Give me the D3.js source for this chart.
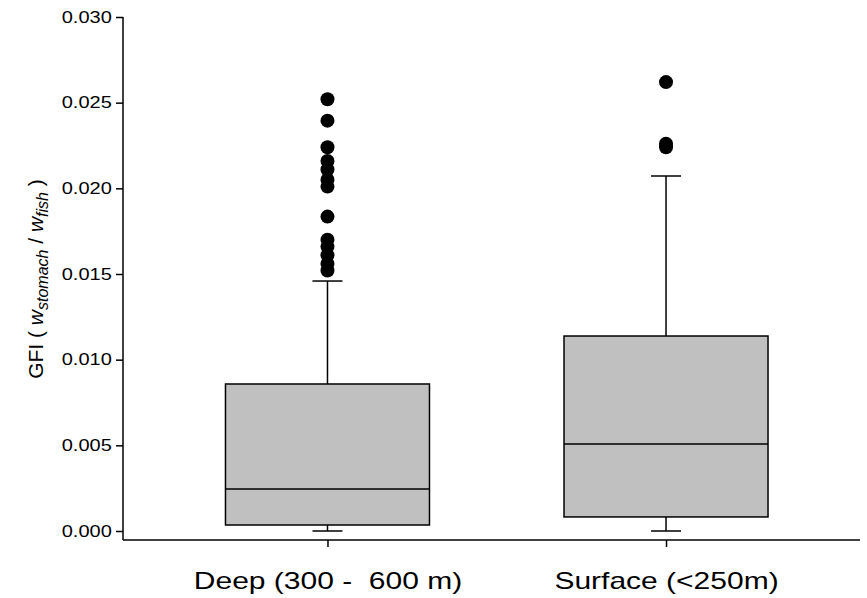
<!DOCTYPE html>
<html>
<head>
<meta charset="utf-8">
<script src="https://cdn.jsdelivr.net/npm/d3@7"></script>
<style>
  body { margin: 0; background: #fff; }
  text { font-family: "Liberation Sans", Arial, sans-serif; }
</style>
</head>
<body>
<script>
// groups on the x axis
const categories = ["Deep (300 -  600 m)", "Surface (<250m)"];

// box stats per group
const q1 = [0.00035, 0.00082];
const median = [0.00245, 0.00508];
const q3 = [0.00858, 0.01138];
const whiskLow = [0.0, 0.0];
const whiskHigh = [0.01459, 0.02072];

// outliers per group
const outDeep = [0.0252, 0.02395, 0.0224, 0.0216, 0.0211, 0.0205, 0.0201, 0.01835,
  0.0170, 0.0166, 0.0161, 0.0156, 0.0152];
const outSurface = [0.0262, 0.0226, 0.0224];
const outliers = [outDeep, outSurface];

const yTicks = [0, 0.005, 0.010, 0.015, 0.020, 0.025, 0.030];

const W = 867, H = 598;
const svg = d3.select("body").append("svg").attr("width", W).attr("height", H);

const yScale = d3.scaleLinear().domain([0, 0.030]).range([531, 17]);
const xScale = d3.scalePoint().domain(categories).range([123, 870.5]).padding(0.604);

const axisBottomY = 540;
const boxW = 204;

// y axis
const yAxis = d3.axisLeft(yScale).tickValues(yTicks).tickFormat(d3.format(".3f")).tickSizeOuter(0).tickSize(7);
const gy = svg.append("g").attr("transform", "translate(123,0)").call(yAxis);
gy.select(".domain").attr("d", "M0," + yScale(0.030) + "V" + axisBottomY);
gy.selectAll("path, line").attr("stroke", "#000").attr("stroke-width", 1.5);
gy.selectAll("text")
  .attr("font-size", 16)
  .attr("fill", "#000")
  .attr("x", -9)
  .attr("transform", "scale(1.25,1)");

// x axis
const xAxis = d3.axisBottom(xScale).tickSizeOuter(0).tickSize(7);
const gx = svg.append("g").attr("transform", "translate(0," + axisBottomY + ")").call(xAxis);
gx.select(".domain").attr("d", "M123,0H860");
gx.selectAll("path, line").attr("stroke", "#000").attr("stroke-width", 1.5);
gx.selectAll(".tick text")
  .attr("font-size", 24)
  .attr("fill", "#000")
  .attr("dy", "1.62em")
  .style("white-space", "pre")
  .attr("transform", "scale(1.25,1)");

// boxes
svg.selectAll("g.box")
  .data(categories)
  .enter()
  .append("g")
  .attr("class", "box")
  .attr("transform", d => "translate(" + xScale(d) + ",0)")
  .each(function(d, i) {
    const g = d3.select(this);

    // whiskers
    g.append("line")
      .attr("x1", 0).attr("x2", 0)
      .attr("y1", yScale(q3[i])).attr("y2", yScale(whiskHigh[i]))
      .attr("stroke", "#000").attr("stroke-width", 1.5);
    g.append("line")
      .attr("x1", 0).attr("x2", 0)
      .attr("y1", yScale(q1[i])).attr("y2", yScale(whiskLow[i]))
      .attr("stroke", "#000").attr("stroke-width", 1.5);
    [whiskHigh[i], whiskLow[i]].forEach(v => {
      g.append("line")
        .attr("x1", -15).attr("x2", 15)
        .attr("y1", yScale(v)).attr("y2", yScale(v))
        .attr("stroke", "#000").attr("stroke-width", 1.5);
    });

    g.append("rect")
      .attr("x", -boxW / 2)
      .attr("width", boxW)
      .attr("y", yScale(q3[i]))
      .attr("height", yScale(q1[i]) - yScale(q3[i]))
      .attr("fill", "#c0c0c0")
      .attr("stroke", "#000")
      .attr("stroke-width", 1.5);

    g.append("line")
      .attr("x1", -boxW / 2).attr("x2", boxW / 2)
      .attr("y1", yScale(median[i])).attr("y2", yScale(median[i]))
      .attr("stroke", "#000").attr("stroke-width", 1.5);

    g.selectAll("circle")
      .data(outliers[i])
      .enter()
      .append("circle")
      .attr("cx", 0)
      .attr("cy", v => yScale(v))
      .attr("r", 7)
      .attr("fill", "#000");
  });

// y axis title
const title = svg.append("text")
  .attr("transform", "translate(43,279) rotate(-90)")
  .attr("text-anchor", "middle")
  .attr("font-size", 21)
  .attr("fill", "#000");
title.append("tspan").text("GFI ( ");
title.append("tspan").attr("font-style", "italic").text("w");
title.append("tspan").attr("font-style", "italic").attr("font-size", 16).attr("dy", 5).text("stomach");
title.append("tspan").attr("dy", -5).text(" / ");
title.append("tspan").attr("font-style", "italic").text("w");
title.append("tspan").attr("font-style", "italic").attr("font-size", 16).attr("dy", 5).text("fish");
title.append("tspan").attr("dy", -5).text(" )");
</script>
</body>
</html>
